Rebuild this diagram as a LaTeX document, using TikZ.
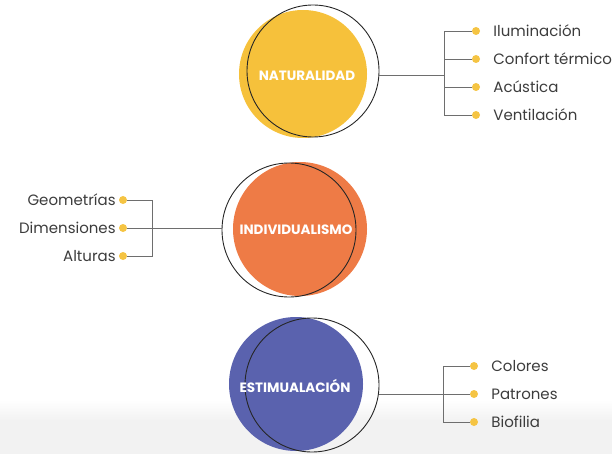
\documentclass[tikz,border=0pt]{standalone}
\usepackage{fontspec}
\setmainfont{Poppins}
\usetikzlibrary{positioning}

\definecolor{natyellow}{HTML}{F6C13B}
\definecolor{indorange}{HTML}{EE7B46}
\definecolor{estblue}{HTML}{5A62AE}
\definecolor{dotyellow}{HTML}{F5C443}
\definecolor{txtgray}{HTML}{3C3C3C}
\definecolor{linegray}{HTML}{6E6E6E}

\tikzset{
    bubble/.style={circle, inner sep=0pt, text=white, font=\bfseries\fontsize{13.5}{16}\selectfont},
    ring/.style={circle, draw=black!85, line width=0.9pt, inner sep=0pt},
    dot/.style={circle, fill=dotyellow, inner sep=0pt, minimum size=8pt},
    item/.style={text=txtgray, font=\fontsize{15}{18}\selectfont, inner sep=0pt},
    branch/.style={draw=linegray, line width=0.6pt}
}

\begin{document}
\begin{tikzpicture}[x=1pt, y=-1pt]
    \useasboundingbox (0, 0) rectangle (612, 454);
    \fill[top color=white, bottom color=black!5] (0, 400) rectangle (612, 420);
    \fill[black!5] (0, 420) rectangle (612, 454);

    % naturalidad
    \node[bubble, fill=natyellow, minimum size=128pt] (nat) at (303, 74) {};
    \node[ring, minimum size=132pt] (natring) at (313, 71) {};
    \node[bubble] (natlabel) at (307, 76) {NATURALIDAD};
    \coordinate (natbr) at (444, 75);
    \node[dot] (n1) at (476, 31) {};
    \node[dot] (n2) at (476, 59) {};
    \node[dot] (n3) at (476, 87) {};
    \node[dot] (n4) at (476, 115) {};
    \node[item, right=13pt of n1] {Iluminación};
    \node[item, right=13pt of n2] {Confort térmico};
    \node[item, right=13pt of n3] {Acústica};
    \node[item, right=13pt of n4] {Ventilación};
    \draw[branch] (natring.east |- natbr) -- (natbr);
    \draw[branch] (n1) -| (natbr);
    \draw[branch] (n2) -| (natbr);
    \draw[branch] (n3) -| (natbr);
    \draw[branch] (n4) -| (natbr);

    % individualismo
    \node[bubble, fill=indorange, minimum size=134pt] (ind) at (300, 229) {};
    \node[ring, minimum size=134pt] (indring) at (289, 230) {};
    \node[bubble] (indlabel) at (296, 230) {INDIVIDUALISMO};
    \coordinate (indbr) at (152, 228);
    \node[dot] (i1) at (123, 200) {};
    \node[dot] (i2) at (123, 228) {};
    \node[dot] (i3) at (123, 256) {};
    \node[item, left=3pt of i1] {Geometrías};
    \node[item, left=3pt of i2] {Dimensiones};
    \node[item, left=3pt of i3] {Alturas};
    \draw[branch] (indring.west |- indbr) -- (indbr);
    \draw[branch] (i1) -| (indbr);
    \draw[branch] (i2) -| (indbr);
    \draw[branch] (i3) -| (indbr);

    % estimulacion
    \node[bubble, fill=estblue, minimum size=134pt] (est) at (296, 384) {};
    \node[ring, minimum size=134pt] (estring) at (312, 385) {};
    \node[bubble] (estlabel) at (295, 386) {ESTIMUALACIÓN};
    \coordinate (estbr) at (443, 394);
    \node[dot] (e1) at (474, 366) {};
    \node[dot] (e2) at (474, 394) {};
    \node[dot] (e3) at (474, 422) {};
    \node[item, right=13pt of e1] {Colores};
    \node[item, right=13pt of e2] {Patrones};
    \node[item, right=13pt of e3] {Biofilia};
    \draw[branch] (estring.east |- estbr) -- (estbr);
    \draw[branch] (e1) -| (estbr);
    \draw[branch] (e2) -| (estbr);
    \draw[branch] (e3) -| (estbr);
\end{tikzpicture}
\end{document}
